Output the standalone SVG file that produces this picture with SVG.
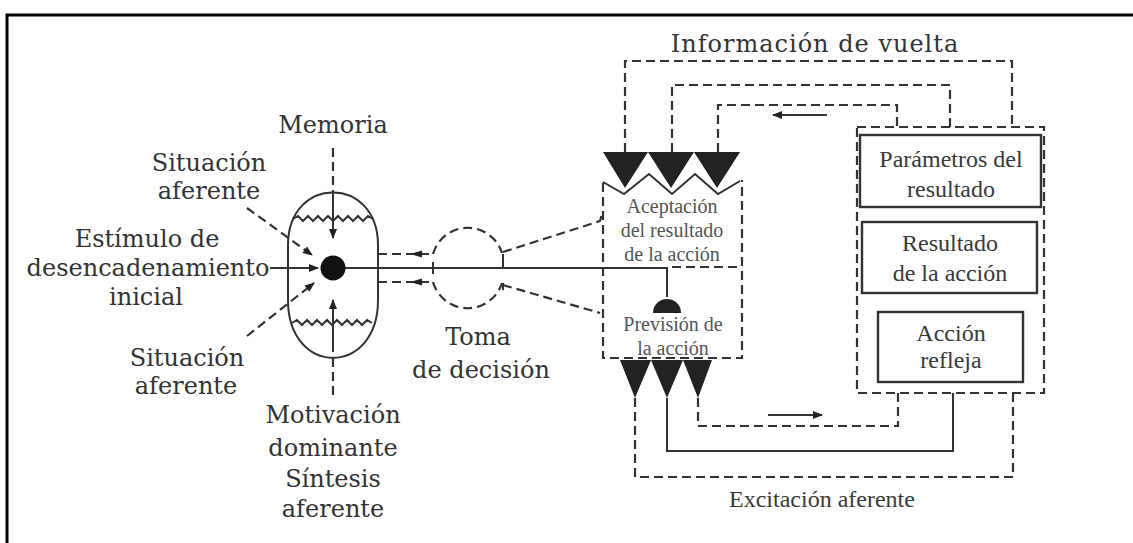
<svg xmlns="http://www.w3.org/2000/svg" width="1133" height="543" viewBox="0 0 1133 543">
<defs>
<style>
.lbl{font-family:"DejaVu Serif","Liberation Serif",serif;font-size:24px;fill:#333;text-anchor:middle}
.box{font-family:"Liberation Serif",serif;font-size:24px;fill:#3a3a3a;text-anchor:middle}
.acc{font-family:"Liberation Serif",serif;font-size:20px;fill:#555;text-anchor:middle}
.s{fill:none;stroke:#333;stroke-width:2}
.d{fill:none;stroke:#333;stroke-width:2.2;stroke-dasharray:9 5}
.f{fill:#222;stroke:none}
</style>
<marker id="ah" viewBox="0 0 10 8" refX="9" refY="4" markerWidth="11" markerHeight="8" markerUnits="userSpaceOnUse" orient="auto">
<path d="M0,0 L10,4 L0,8 z" fill="#222"/>
</marker>
</defs>
<rect width="1133" height="543" fill="#fff"/>
<path d="M7,543 V15 H1133" fill="none" stroke="#000" stroke-width="3"/>

<g id="connectors">
<line class="d" x1="333" y1="148" x2="333" y2="192"/>
<line class="s" x1="333" y1="192" x2="333" y2="238" marker-end="url(#ah)"/>
<line class="d" x1="333" y1="395" x2="333" y2="358"/>
<line class="s" x1="333" y1="352" x2="333" y2="300" marker-end="url(#ah)"/>
<line class="d" x1="247" y1="208" x2="312" y2="255" marker-end="url(#ah)"/>
<line class="d" x1="247" y1="336" x2="314" y2="283" marker-end="url(#ah)"/>
<line class="s" x1="270" y1="268" x2="318" y2="268" marker-end="url(#ah)"/>
<polyline class="s" points="333,268 667,268 667,297" stroke-width="2.6"/>
<line class="d" x1="378" y1="254" x2="433" y2="254"/>
<line class="d" x1="378" y1="282" x2="433" y2="282"/>
<path class="f" d="M410,254 L422,250.5 L422,257.5 z"/>
<path class="f" d="M410,282 L422,278.5 L422,285.5 z"/>
<path class="d" d="M433,254 A36,36 0 0 1 502,253"/>
<path class="d" d="M433,282 A36,36 0 0 0 502,283"/>
<line class="s" x1="433" y1="262" x2="433" y2="274"/>
<line class="s" x1="503" y1="254" x2="503" y2="268"/>
<line class="s" x1="503" y1="283" x2="503" y2="290"/>
<polyline class="d" points="503,252 600,221 602,214"/>
<polyline class="d" points="503,285 600,313"/>
<line class="d" x1="672" y1="267" x2="742" y2="267"/>
<polyline class="d" points="625,152 625,61 1012,61 1012,127"/>
<polyline class="d" points="672,152 672,85 950,85 950,127"/>
<polyline class="d" points="718,152 718,105 897,105 897,127"/>
<line class="s" x1="827" y1="115" x2="773" y2="115" marker-end="url(#ah)"/>
<polyline class="d" points="698,398 698,426 898,426 898,393"/>
<polyline class="s" points="667,398 667,451 953,451 953,393"/>
<polyline class="d" points="635,398 635,477 1013,477 1013,393"/>
<line class="s" x1="768" y1="415" x2="822" y2="415" marker-end="url(#ah)"/>
</g>

<g id="afferent-synthesis">
<path class="s" d="M288,245 C288,175 378,175 378,245 L378,300 C378,377 288,377 288,300 Z"/>
<polyline class="s" stroke-width="1.5" points="293,219 298,216 303,221 308,216 313,221 318,216 323,221 328,216 333,221 338,216 343,221 348,216 353,221 358,216 363,221 368,216 373,219"/>
<polyline class="s" stroke-width="1.5" points="292,323 297,320 302,325 307,320 312,325 317,320 322,325 327,320 332,325 337,320 342,325 347,320 352,325 357,320 362,325 367,320 372,323"/>
<circle cx="333" cy="268" r="12.5" fill="#111"/>
</g>

<g id="labels-left">
<text class="lbl" x="333" y="133">Memoria</text>
<text class="lbl" x="209" y="171">Situación</text>
<text class="lbl" x="209" y="199">aferente</text>
<text class="lbl" x="147" y="247">Estímulo de</text>
<text class="lbl" x="148" y="276">desencadenamiento</text>
<text class="lbl" x="146" y="305">inicial</text>
<text class="lbl" x="187" y="366">Situación</text>
<text class="lbl" x="186" y="394">aferente</text>
<text class="lbl" x="333" y="423">Motivación</text>
<text class="lbl" x="333" y="456">dominante</text>
<text class="lbl" x="333" y="487">Síntesis</text>
<text class="lbl" x="333" y="517">aferente</text>
</g>

<g id="decision">
<text class="lbl" x="478" y="345">Toma</text>
<text class="lbl" x="481" y="378">de decisión</text>
</g>

<g id="acceptor">
<path class="d" d="M603,183 V358 H742 V180"/>
<path class="f" d="M603,152 H740 L717,188 L694,152 L671,188 L648,152 L625,188 Z"/>
<polyline class="s" points="603,182 624,194 649,174 672,194 695,174 718,194 740,181"/>
<text class="acc" x="672" y="213">Aceptación</text>
<text class="acc" x="672" y="237">del resultado</text>
<text class="acc" x="672" y="261">de la acción</text>
<path class="f" d="M653,313 A14,14 0 0 1 681,313 Z"/>
<text class="acc" x="673" y="331">Previsión de</text>
<text class="acc" x="673" y="355">la acción</text>
<path class="f" d="M620,360 H712 L698,398 L683,360 L667,398 L651,360 L635,398 Z"/>
</g>

<g id="result-block">
<rect class="d" x="857" y="127" width="187" height="266"/>
<rect x="860" y="135" width="181" height="72" fill="none" stroke="#333" stroke-width="2.4"/>
<text class="box" x="951" y="167">Parámetros del</text>
<text class="box" x="951" y="197">resultado</text>
<rect x="862" y="222" width="175" height="71" fill="none" stroke="#333" stroke-width="2.4"/>
<text class="box" x="950" y="251">Resultado</text>
<text class="box" x="950" y="281">de la acción</text>
<rect x="878" y="312" width="145" height="70" fill="none" stroke="#333" stroke-width="2.4"/>
<text class="box" x="951" y="341">Acción</text>
<text class="box" x="951" y="368">refleja</text>
</g>

<g id="titles">
<text class="lbl" x="815" y="52" letter-spacing="1">Información de vuelta</text>
<text class="box" x="822" y="507">Excitación aferente</text>
</g>
</svg>
